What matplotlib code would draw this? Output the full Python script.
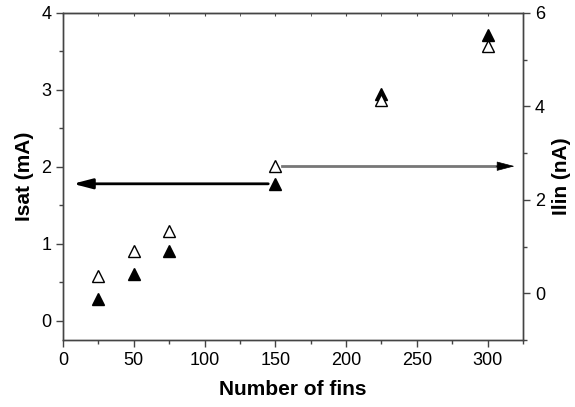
import matplotlib.pyplot as plt
from matplotlib.ticker import MultipleLocator

plt.rcParams['font.family'] = ['Liberation Sans', 'DejaVu Sans']

# Saturation current (left axis) and linear current (right axis) vs. fin count
fins = [25, 50, 75, 150, 225, 300]
isat = [0.28, 0.61, 0.91, 1.78, 2.95, 3.72]
ilin = [0.38, 0.91, 1.34, 2.72, 4.14, 5.30]

spine_col = '#444444'

fig = plt.figure(figsize=(5.75, 4.07), dpi=100)
ax = fig.add_axes([0.1096, 0.1646, 0.80, 0.8035])
ax2 = ax.twinx()

ax.plot(fins, isat, linestyle='none', marker='^', ms=8.5, color='black', zorder=3)
ax2.plot(fins, ilin, linestyle='none', marker='^', ms=8.5, mfc='white',
         mec='black', mew=1.0, zorder=4)

ax.set_xlim(0, 325)
ax.set_ylim(-0.25, 4)
ax2.set_ylim(-1, 6)

ax.xaxis.set_major_locator(MultipleLocator(50))
ax.xaxis.set_minor_locator(MultipleLocator(25))
ax.yaxis.set_major_locator(MultipleLocator(1))
ax.yaxis.set_minor_locator(MultipleLocator(0.5))
ax2.yaxis.set_major_locator(MultipleLocator(2))
ax2.yaxis.set_minor_locator(MultipleLocator(1))

for a in (ax, ax2):
    for s in a.spines.values():
        s.set_color(spine_col)
        s.set_linewidth(1.0)
    a.tick_params(which='both', direction='out', colors=spine_col,
                  labelcolor='black', labelsize=13, width=1.0)
    a.tick_params(which='major', length=5)
    a.tick_params(which='minor', length=3)

# small inward ticks along the top edge
top = ax.secondary_xaxis('top')
top.xaxis.set_major_locator(MultipleLocator(50))
top.xaxis.set_minor_locator(MultipleLocator(25))
top.tick_params(which='both', direction='in', length=2, labeltop=False,
                colors=spine_col)
top.spines['top'].set_color(spine_col)

ax.set_xlabel('Number of fins', fontsize=15, fontweight='bold', labelpad=8)
ax.set_ylabel('Isat (mA)', fontsize=15, fontweight='bold', labelpad=5)
ax2.set_ylabel('Ilin (nA)', fontsize=15, fontweight='bold', labelpad=5)

# Arrow pointing to the left axis (Isat)
ax.annotate('', xy=(7, isat[3]), xytext=(145, isat[3]),
            arrowprops=dict(arrowstyle='-|>,head_length=1.15,head_width=0.3',
                            color='black', lw=2, mutation_scale=10,
                            shrinkA=0, shrinkB=0), zorder=2)

# Arrow pointing to the right axis (Ilin): grey shaft, black head
ax2.plot([155, 308], [ilin[3], ilin[3]], color='#777777', lw=2, zorder=2)
ax2.annotate('', xy=(319, ilin[3]), xytext=(306, ilin[3]),
             arrowprops=dict(arrowstyle='-|>,head_length=1.15,head_width=0.3',
                             color='black', lw=0.5, mutation_scale=10,
                             shrinkA=0, shrinkB=0), zorder=2)

fig.savefig('out.png', dpi=100)
